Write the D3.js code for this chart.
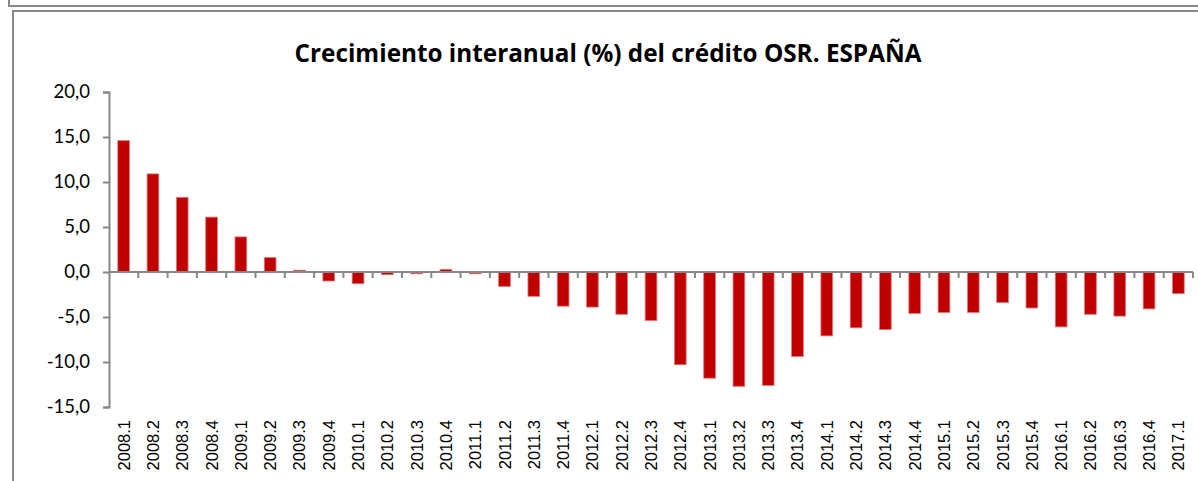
<!DOCTYPE html>
<html><head><meta charset="utf-8">
<script src="https://cdn.jsdelivr.net/npm/d3@7"></script>
<style>html,body{margin:0;padding:0;background:#fff;}svg{display:block;}</style>
</head><body>
<svg id="chart" width="1198" height="481"></svg>
<script>
const title = "Crecimiento interanual (%) del crédito OSR. ESPAÑA";
const categories = ["2008.1","2008.2","2008.3","2008.4","2009.1","2009.2","2009.3","2009.4",
  "2010.1","2010.2","2010.3","2010.4","2011.1","2011.2","2011.3","2011.4",
  "2012.1","2012.2","2012.3","2012.4","2013.1","2013.2","2013.3","2013.4",
  "2014.1","2014.2","2014.3","2014.4","2015.1","2015.2","2015.3","2015.4",
  "2016.1","2016.2","2016.3","2016.4","2017.1"];
const values = [14.6,10.9,8.3,6.1,3.9,1.6,0.2,-1.0,
  -1.3,-0.3,-0.2,0.3,-0.2,-1.6,-2.7,-3.8,
  -3.9,-4.7,-5.4,-10.3,-11.8,-12.7,-12.6,-9.4,
  -7.1,-6.2,-6.4,-4.6,-4.5,-4.5,-3.4,-4.0,
  -6.1,-4.7,-4.9,-4.1,-2.4];
const yTicks = [-15,-10,-5,0,5,10,15,20];

const svg = d3.select("#chart");
const gray = "#878787";

// frames
svg.append("path").attr("d","M9,0V6H1198").attr("fill","none").attr("stroke",gray).attr("stroke-width",2);
svg.append("path").attr("d","M13,481V11H1198").attr("fill","none").attr("stroke",gray).attr("stroke-width",2);

const x = d3.scaleBand().domain(categories).range([109,1193]).paddingInner(0.6).paddingOuter(0.3);
const y = d3.scaleLinear().domain([-15,20]).range([407,92]);
const loc = d3.formatLocale({decimal:",",thousands:".",grouping:[3],currency:["","€"],minus:"-"});
const fmt = loc.format(".1f");

// title
svg.append("text").attr("x",608).attr("y",62).attr("text-anchor","middle")
  .attr("font-family","'Open Sans', Lato, sans-serif").attr("font-weight","bold")
  .attr("font-size",24.3).attr("fill","#000").text(title);

// bars
svg.append("g").selectAll("rect").data(values).join("rect")
  .attr("x",(d,i)=>x(categories[i]))
  .attr("width",x.bandwidth())
  .attr("y",d=>y(Math.max(0,d)))
  .attr("height",d=>Math.abs(y(d)-y(0)))
  .attr("fill","#C00000")
  .attr("stroke","#e07a7a").attr("stroke-width",0.8);

// y axis
const yAxis = d3.axisLeft(y).tickValues(yTicks).tickFormat(fmt).tickSize(6).tickPadding(13);
const gy = svg.append("g").attr("transform","translate(109,0)").call(yAxis);
gy.select(".domain").attr("stroke",gray).attr("stroke-width",2);
gy.selectAll(".tick line").attr("stroke",gray).attr("stroke-width",2);
gy.selectAll(".tick text").attr("font-family","Lato, 'Open Sans', sans-serif").attr("font-size",18.5).attr("fill","#000");

// x axis line at zero
svg.append("line").attr("x1",109).attr("x2",1193).attr("y1",y(0)).attr("y2",y(0))
  .attr("stroke",gray).attr("stroke-width",2);
// boundary ticks
const step = x.step();
const bounds = categories.map(c=>x(c)+x.bandwidth()+step*0.3);
svg.append("g").selectAll("line").data(bounds).join("line")
  .attr("x1",d=>d).attr("x2",d=>d).attr("y1",y(0)).attr("y2",y(0)+6)
  .attr("stroke",gray).attr("stroke-width",2);

// x labels
svg.append("g").selectAll("text").data(categories).join("text")
  .attr("transform",c=>`translate(${x(c)+x.bandwidth()/2+6},420) rotate(-90)`)
  .attr("text-anchor","end")
  .attr("font-family","'Liberation Sans', Arial, sans-serif").attr("font-size",16.5).attr("fill","#000")
  .text(c=>c);
</script>
</body></html>
